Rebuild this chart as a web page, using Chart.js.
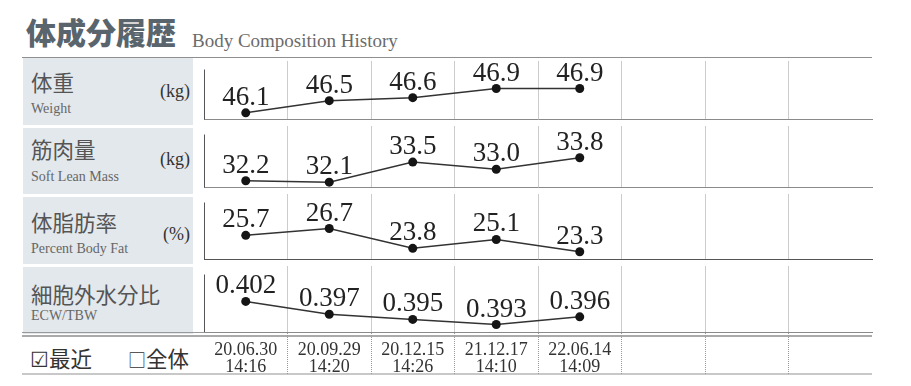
<!DOCTYPE html>
<html lang="ja">
<head>
<meta charset="utf-8">
<title>体成分履歴</title>
<script src="https://cdn.jsdelivr.net/npm/chart.js@4.4.1/dist/chart.umd.min.js"></script>
<style>
  html, body { margin: 0; padding: 0; background: #fff; }
  #sheet { position: relative; width: 911px; height: 386px; overflow: hidden; }
  .abs { position: absolute; white-space: nowrap; }
  .rule { position: absolute; left: 22px; width: 850px; }
  .panel { position: absolute; left: 23px; width: 170px; background: #e3e8ec; }
  .jp { font-family: "Noto Sans CJK JP", "Noto Sans", sans-serif; line-height: 1; }
  .serif { font-family: "Liberation Serif", "DejaVu Serif", serif; line-height: 1; }
  .name { left: 31px; font-size: 21.5px; color: #555; }
  .sub { left: 31px; font-size: 14px; color: #666; }
  .unit { right: 721px; font-size: 18px; color: #333; }
  canvas { position: absolute; left: 196px; }
</style>
</head>
<body>
<div id="sheet">
  <div class="abs jp" style="left:26px; top:16px; font-size:30px; font-weight:900; color:#59646c;">体成分履歴</div>
  <div class="abs serif" style="left:192px; top:31px; font-size:19px; color:#6b6b6b;">Body Composition History</div>

  <div class="rule" style="top:57px; height:1px; background:#8f8f8f;"></div>

  <div class="panel" style="top:58px; height:67px;"></div>
  <div class="panel" style="top:128px; height:66px;"></div>
  <div class="panel" style="top:197px; height:67px;"></div>
  <div class="panel" style="top:267px; height:67px;"></div>

  <div class="abs jp name" style="top:71px;">体重</div>
  <div class="abs serif sub" style="top:102px;">Weight</div>
  <div class="abs serif unit" style="top:82px;">(kg)</div>

  <div class="abs jp name" style="top:138px;">筋肉量</div>
  <div class="abs serif sub" style="top:170px;">Soft Lean Mass</div>
  <div class="abs serif unit" style="top:150px;">(kg)</div>

  <div class="abs jp name" style="top:211px;">体脂肪率</div>
  <div class="abs serif sub" style="top:242px;">Percent Body Fat</div>
  <div class="abs serif unit" style="top:225px;">(%)</div>

  <div class="abs jp name" style="top:283px;">細胞外水分比</div>
  <div class="abs serif sub" style="top:309px;">ECW/TBW</div>

  <div class="rule" style="top:332px; height:1px; background:#999;"></div>
  <div class="rule" style="top:335px; height:2px; background:#aaa;"></div>
  <div class="rule" style="top:373px; height:2px; background:#c8c8c8;"></div>

  <div class="abs jp" style="left:30px; top:347px; font-size:21.5px; color:#333;"><span style="font-size:21px;">☑</span>最近</div>
  <div class="abs jp" style="left:128px; top:347px; font-size:21.5px; color:#333;"><span style="font-size:18px;">□</span>全体</div>

  <canvas id="weightChart" width="684" height="67" style="top:57px;"></canvas>
  <canvas id="leanChart" width="684" height="70" style="top:122px;"></canvas>
  <canvas id="fatChart" width="684" height="74" style="top:190px;"></canvas>
  <canvas id="ecwChart" width="684" height="114" style="top:262px;"></canvas>
</div>

<script>
// --- DATA ---
const dates = ['20.06.30', '20.09.29', '20.12.15', '21.12.17', '22.06.14'];
const times = ['14:16', '14:20', '14:26', '14:10', '14:09'];
const emptySlots = 3;

const weight = [46.1, 46.5, 46.6, 46.9, 46.9];
const leanMass = [32.2, 32.1, 33.5, 33.0, 33.8];
const bodyFat = [25.7, 26.7, 23.8, 25.1, 23.3];
const ecwRatio = [0.402, 0.397, 0.395, 0.393, 0.396];

const xLabels = dates.map((d, i) => [d, times[i]]).concat(Array(emptySlots).fill(''));
const slotCount = dates.length + emptySlots;

// no dotted line on the outer edges of the grid
const isEdge = c => c.index === undefined || c.index === 0 || c.index >= slotCount;
const gridColor = c => isEdge(c) ? 'rgba(0,0,0,0)' : '#9a9a9a';

// value printed above each point
const valueLabels = {
    id: 'valueLabels',
    afterDatasetsDraw(chart, args, opts) {
        const ctx = chart.ctx;
        const values = chart.data.datasets[0].data;
        ctx.save();
        ctx.font = '27px "Liberation Serif", serif';
        ctx.fillStyle = '#222';
        ctx.textAlign = 'center';
        ctx.textBaseline = 'alphabetic';
        chart.getDatasetMeta(0).data.forEach((pt, i) => {
            ctx.fillText(values[i].toFixed(opts.decimals), pt.x, pt.y - 8);
        });
        ctx.restore();
    }
};

// solid left rule, starting a bit below the row top
const leftRule = {
    id: 'leftRule',
    beforeDatasetsDraw(chart) {
        const { ctx, chartArea: a } = chart;
        const x = Math.round(a.left) + 0.5;
        ctx.save();
        ctx.strokeStyle = '#555';
        ctx.lineWidth = 1;
        ctx.beginPath();
        ctx.moveTo(x, a.top + 8);
        ctx.lineTo(x, a.bottom);
        ctx.stroke();
        ctx.restore();
    }
};

function makeRow(id, values, yMin, yMax, decimals, lineColor, dateAxis) {
    return new Chart(document.getElementById(id), {
        type: 'line',
        data: {
            labels: xLabels,
            datasets: [{
                data: values,
                borderColor: '#333',
                borderWidth: 1.5,
                pointRadius: 4.5,
                pointBackgroundColor: '#151515',
                pointBorderWidth: 0,
                tension: 0
            }]
        },
        options: {
            responsive: false,
            animation: false,
            events: [],
            layout: { padding: { left: 8, right: 8, top: 0, bottom: 2 } },
            plugins: {
                legend: { display: false },
                tooltip: { enabled: false },
                valueLabels: { decimals }
            },
            scales: {
                x: {
                    offset: true,
                    grid: {
                        offset: true,
                        color: gridColor,
                        lineWidth: 1,
                        drawTicks: dateAxis,
                        tickLength: 42,
                        tickColor: gridColor,
                        tickWidth: 1,
                        tickBorderDash: [1, 1]
                    },
                    border: { display: true, color: lineColor, width: 1, dash: [1, 1] },
                    ticks: {
                        display: dateAxis,
                        autoSkip: false,
                        maxRotation: 0,
                        minRotation: 0,
                        padding: -32,
                        color: '#333',
                        font: { family: '"Liberation Serif", serif', size: 18, lineHeight: 0.95 }
                    },
                    afterFit: dateAxis ? (s => { s.height = 42; }) : undefined
                },
                y: { display: false, min: yMin, max: yMax }
            }
        },
        plugins: [leftRule, valueLabels]
    });
}

makeRow('weightChart', weight, 45.88, 47.79, 1, '#8a8a8a', false);
makeRow('leanChart', leanMass, 31.73, 35.98, 1, '#8a8a8a', false);
makeRow('fatChart', bodyFat, 22.16, 31.69, 1, '#555', false);
makeRow('ecwChart', ecwRatio, 0.3901, 0.4156, 3, '#8a8a8a', true);
</script>
</body>
</html>
